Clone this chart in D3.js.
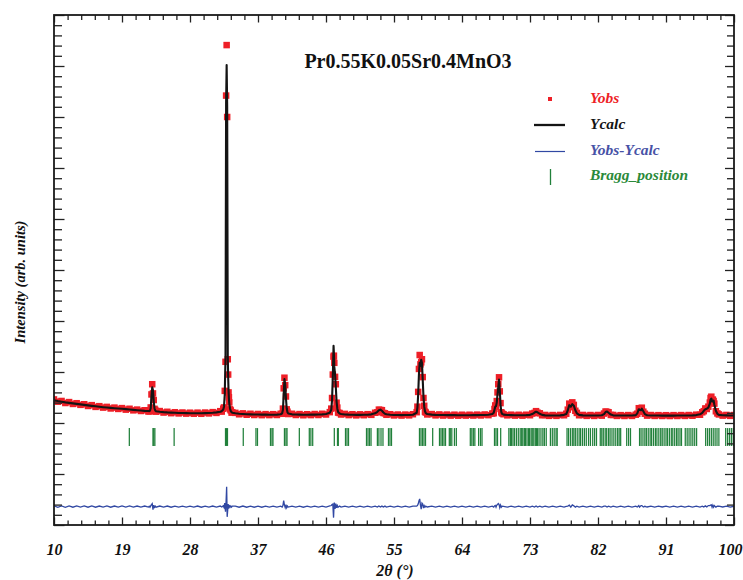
<!DOCTYPE html>
<html>
<head>
<meta charset="utf-8">
<script src="https://cdn.jsdelivr.net/npm/d3@7"></script>
<style>
  body { margin: 0; background: #fff; }
  svg { display: block; }
  text { font-family: "Liberation Serif", "Times New Roman", serif; }
</style>
</head>
<body>
<svg id="chart" width="743" height="580"></svg>
<script>
// ---- Powder pattern: 2θ grid, observed and calculated intensities (arb. units) ----
const twoTheta = [
  10, 10.5, 11, 11.5, 12, 12.5, 13, 13.5, 14, 14.5, 15, 15.5, 16, 16.5, 17, 17.5, 18, 18.5, 19, 19.5, 20, 20.5, 21, 21.5, 22, 22.5,
  22.6, 22.7, 22.8, 22.9, 23, 23.1, 23.2, 23.3, 23.4, 23.5,
  24, 24.5, 25, 25.5, 26, 26.5, 27, 27.5, 28, 28.5, 29, 29.5, 30, 30.5, 31, 31.5, 32,
  32.2, 32.4, 32.5, 32.6, 32.7, 32.78, 32.85, 32.92, 33, 33.05, 33.1, 33.15, 33.2, 33.3, 33.4, 33.5, 33.6,
  34, 34.5, 35, 35.5, 36, 36.5, 37, 37.5, 38, 38.5, 39, 39.5, 40,
  40.2, 40.3, 40.4, 40.5, 40.6, 40.7, 40.8, 40.9, 41,
  41.5, 42, 42.5, 43, 43.5, 44, 44.5, 45, 45.5, 46, 46.5,
  46.7, 46.8, 46.9, 47, 47.05, 47.1, 47.2, 47.3, 47.4, 47.5, 47.6, 47.8,
  48, 48.5, 49, 49.5, 50, 50.5, 51, 51.5, 52, 52.5,
  52.8, 53, 53.2, 53.4, 53.6, 53.8, 54,
  54.5, 55, 55.5, 56, 56.5, 57, 57.5,
  58, 58.1, 58.2, 58.3, 58.4, 58.5, 58.6, 58.7, 58.8, 58.9, 59, 59.1, 59.2, 59.4,
  60, 60.5, 61, 61.5, 62, 62.5, 63, 63.5, 64, 64.5, 65, 65.5, 66, 66.5, 67, 67.5, 68,
  68.2, 68.3, 68.4, 68.5, 68.6, 68.7, 68.8, 68.9, 69, 69.1, 69.2, 69.3,
  69.5, 70, 70.5, 71, 71.5, 72, 72.5, 73,
  73.3, 73.6, 73.8, 74, 74.3, 74.6,
  75, 75.5, 76, 76.5, 77, 77.5,
  77.8, 78, 78.2, 78.4, 78.6, 78.8, 79, 79.2, 79.5,
  80, 80.5, 81, 81.5, 82, 82.5,
  82.8, 83, 83.2, 83.4, 83.7,
  84, 84.5, 85, 85.5, 86, 86.5, 87,
  87.2, 87.4, 87.5, 87.7, 87.8, 88, 88.2, 88.5,
  89, 89.5, 90, 90.5, 91, 91.5, 92, 92.5, 93, 93.5, 94, 94.5, 95, 95.5,
  95.8, 96, 96.2, 96.4, 96.6, 96.8, 96.9, 97, 97.1, 97.2, 97.3, 97.4, 97.6, 97.8,
  98, 98.5, 99, 99.5, 100
];

const yObs = [
  462, 418, 432, 392, 410, 374, 388, 356, 368, 334, 350, 316, 330, 302, 316, 285, 302, 276, 292, 262, 279, 248, 263, 236, 250, 225,
  240, 228, 305, 560, 760, 580, 450, 278, 256, 222,
  234, 205, 220, 193, 211, 188, 206, 184, 202, 182, 203, 181, 205, 188, 213, 198, 232,
  224, 280, 305, 630, 1200, 6420, 7410, 6000, 1250, 950, 600, 505, 402, 268, 246, 204, 211,
  199, 171, 189, 162, 181, 157, 177, 154, 174, 155, 173, 157, 181,
  181, 282, 680, 888, 742, 520, 268, 221, 176,
  181, 157, 175, 152, 172, 155, 176, 157, 181, 167, 213,
  282, 490, 950, 1300, 1320, 1180, 905, 760, 398, 302, 204, 196,
  167, 179, 155, 172, 150, 170, 153, 173, 160, 201,
  211, 262, 255, 251, 197, 190, 161,
  172, 149, 166, 146, 165, 150, 172,
  212, 320, 610, 1060, 1333, 1150, 1190, 1250, 900, 490, 338, 222, 205, 168,
  175, 150, 168, 146, 165, 145, 163, 144, 162, 145, 162, 146, 164, 148, 167, 154, 185,
  192, 275, 345, 320, 430, 600, 760, 896, 620, 390, 210, 188,
  172, 150, 163, 145, 161, 144, 162, 152,
  185, 198, 232, 202, 190, 152,
  158, 140, 156, 140, 158, 152,
  182, 262, 380, 310, 405, 355, 240, 198, 152,
  158, 140, 156, 139, 157, 144,
  185, 225, 218, 210, 158,
  158, 139, 154, 138, 155, 139, 163,
  182, 290, 250, 270, 300, 222, 182, 145,
  156, 139, 154, 138, 153, 137, 154, 138, 155, 139, 156, 142, 163, 162,
  210, 232, 285, 275, 320, 400, 490, 516, 410, 460, 430, 380, 230, 188,
  168, 145, 158, 140, 156
];

const yCalc = [
  445, 430, 418, 405, 395, 385, 375, 365, 355, 345, 336, 327, 318, 310, 303, 296, 290, 284, 278, 272, 265, 258, 251, 244, 238, 234,
  232, 240, 290, 520, 700, 640, 420, 290, 245, 232,
  222, 214, 208, 204, 200, 197, 195, 193, 192, 191, 191, 192, 194, 197, 201, 208, 220,
  232, 265, 320, 560, 1300, 6300, 7020, 6200, 1300, 900, 640, 480, 380, 280, 232, 212, 200,
  190, 182, 177, 173, 170, 168, 166, 165, 164, 163, 163, 165, 172,
  190, 260, 560, 860, 760, 480, 290, 210, 185,
  170, 166, 164, 163, 163, 164, 165, 167, 170, 176, 200,
  260, 450, 900, 1516, 1350, 1100, 950, 700, 420, 280, 215, 185,
  175, 168, 164, 162, 160, 160, 161, 163, 170, 190,
  220, 250, 262, 240, 205, 180, 170,
  162, 158, 156, 155, 156, 158, 163,
  200, 300, 560, 950, 1180, 1120, 1240, 1180, 850, 520, 320, 230, 195, 175,
  165, 160, 158, 156, 155, 154, 154, 153, 153, 153, 153, 154, 155, 156, 158, 162, 175,
  200, 260, 320, 330, 400, 560, 700, 850, 640, 360, 220, 180,
  165, 158, 155, 153, 152, 152, 154, 160,
  175, 205, 220, 210, 180, 160,
  150, 148, 147, 148, 150, 160,
  175, 250, 350, 320, 370, 340, 250, 190, 160,
  150, 148, 147, 147, 148, 152,
  175, 215, 225, 200, 165,
  150, 147, 146, 146, 146, 147, 155,
  190, 270, 260, 250, 280, 230, 175, 152,
  148, 147, 146, 145, 145, 145, 145, 146, 146, 147, 148, 150, 155, 170,
  200, 240, 270, 280, 300, 380, 460, 480, 420, 430, 440, 360, 240, 180,
  160, 152, 150, 148, 148
];

// Reflection positions (2θ) of the refined phase
const braggPositions = [
  19.97, 23.1, 23.2, 23.35, 25.9,
  32.7, 32.83, 32.96, 35.05, 36.73, 36.93, 38.65, 38.85, 38.98, 40.5, 40.7, 40.84,
  42.47, 43.79, 44.0, 44.24, 47.1, 47.52, 47.63, 48.58, 48.78, 48.98,
  51.36, 51.56, 51.76, 51.96, 52.8, 53.0, 53.28, 53.54, 54.27, 54.47, 54.67,
  58.37, 58.57, 58.77, 58.97, 59.17, 60.12, 61.02, 61.22, 61.42, 61.62, 61.82, 62.32,
  62.45, 62.65, 63.0, 63.25, 65.1, 65.3, 65.5, 65.7, 66.2, 66.45, 66.65,
  68.3, 68.5, 68.7, 69.12, 70.2, 70.4, 70.55, 70.75, 70.95, 71.2, 71.45, 71.7, 71.9,
  72.05, 72.25, 72.4, 72.6, 72.8, 72.95, 73.15, 73.3, 73.5, 73.7, 73.85,
  74.0, 74.2, 74.45, 74.7, 74.9, 75.15, 75.7, 75.95, 76.2, 76.45, 76.6,
  77.9, 78.1, 78.35, 78.6, 78.8, 79.0, 79.25, 79.5, 79.7, 79.95, 80.2, 80.45,
  80.75, 81.0, 81.3, 81.55, 81.8,
  82.3, 82.5, 82.7, 82.95, 83.15, 83.4, 83.6, 83.85, 84.1, 84.35, 84.6, 84.8, 85.0,
  85.8, 86.05, 86.3,
  87.5, 87.7, 87.95, 88.2, 88.4, 88.65, 88.9, 89.1, 89.35, 89.6, 89.8, 90.05, 90.3, 90.5,
  90.75, 91.0, 91.2, 91.45, 91.7, 91.9, 92.15, 92.4, 92.6, 92.85, 93.05,
  93.55, 93.8, 94.05, 94.3, 94.55, 94.8, 95.05,
  96.25, 96.5, 96.75, 97.0, 97.25, 97.5, 97.75, 98.0,
  98.9, 99.15, 99.4, 99.65, 99.9
];

const xTickValues = [10, 19, 28, 37, 46, 55, 64, 73, 82, 91, 100];
const legendLabels = ["Yobs", "Ycalc", "Yobs-Ycalc", "Bragg_position"];
const titleText = "Pr0.55K0.05Sr0.4MnO3";

// vertical placement (intensity units) of the difference curve and Bragg markers
const diffOffset = -1640;
const braggTop = -100;
const braggBottom = -450;

// ---- layout ----
const plot = { left: 54, right: 734, top: 15, bottom: 525 };
const x = d3.scaleLinear().domain([10, 100]).range([plot.left, plot.right]);
const y = d3.scaleLinear().domain([-2000, 8000]).range([plot.bottom, plot.top]);

const colors = {
  obs: "#ee1f27",
  calc: "#141414",
  diff: "#3148a3",
  bragg: "#21803b",
  diffText: "#4752a6",
  braggText: "#2b8a3a"
};

const svg = d3.select("#chart");

svg.append("defs").append("clipPath").attr("id", "plotClip")
  .append("rect")
  .attr("x", plot.left).attr("y", plot.top)
  .attr("width", plot.right - plot.left).attr("height", plot.bottom - plot.top);

const body = svg.append("g").attr("clip-path", "url(#plotClip)");

// Bragg reflection markers
body.append("g").selectAll("line")
  .data(braggPositions)
  .join("line")
  .attr("x1", d => x(d)).attr("x2", d => x(d))
  .attr("y1", y(braggTop)).attr("y2", y(braggBottom))
  .attr("stroke", colors.bragg)
  .attr("stroke-width", 1.25);

// difference curve
const idx = d3.range(twoTheta.length);
body.append("path")
  .datum(idx)
  .attr("fill", "none")
  .attr("stroke", colors.diff)
  .attr("stroke-width", 1.3)
  .attr("d", d3.line()
    .x(i => x(twoTheta[i]))
    .y(i => y(yObs[i] - yCalc[i] + diffOffset)));

// observed points
const sq = 6.5;
body.append("g").selectAll("rect")
  .data(idx)
  .join("rect")
  .attr("x", i => x(twoTheta[i]) - sq / 2)
  .attr("y", i => y(yObs[i]) - sq / 2)
  .attr("width", sq).attr("height", sq)
  .attr("fill", colors.obs);

// calculated profile
body.append("path")
  .datum(idx)
  .attr("fill", "none")
  .attr("stroke", colors.calc)
  .attr("stroke-width", 2.1)
  .attr("stroke-linejoin", "round")
  .attr("d", d3.line()
    .x(i => x(twoTheta[i]))
    .y(i => y(yCalc[i])));

// ---- axes (ticks point inward on all four sides) ----
const xMinor = d3.range(0, 51).map(k => 10 + 1.8 * k).filter(v => !xTickValues.some(t => Math.abs(t - v) < 1e-6));
const yMajor = d3.range(-2000, 8001, 1000);
const yMinor = d3.range(-2000, 8001, 200).filter(v => v % 1000 !== 0);

function styleAxis(sel) {
  sel.select(".domain").remove();
  sel.selectAll(".tick line").attr("stroke", "#222").attr("stroke-width", 1.3);
}

svg.append("g").attr("transform", `translate(0,${plot.bottom})`)
  .call(d3.axisBottom(x).tickValues(xMinor).tickSize(-4.5).tickFormat(""))
  .call(styleAxis);
const xAxisG = svg.append("g").attr("transform", `translate(0,${plot.bottom})`)
  .call(d3.axisBottom(x).tickValues(xTickValues).tickSize(-7.5).tickPadding(18.5).tickFormat(d3.format("d")))
  .call(styleAxis);
xAxisG.selectAll(".tick text")
  .attr("font-family", "Liberation Serif, serif")
  .attr("font-size", 16).attr("font-weight", "bold").attr("font-style", "italic")
  .attr("fill", "#111");
// keep the last label inside the canvas
xAxisG.selectAll(".tick text").filter(d => d === 100)
  .attr("text-anchor", "end").attr("x", 8);

svg.append("g").attr("transform", `translate(0,${plot.top})`)
  .call(d3.axisTop(x).tickValues(xMinor).tickSize(-5).tickFormat(""))
  .call(styleAxis);
svg.append("g").attr("transform", `translate(0,${plot.top})`)
  .call(d3.axisTop(x).tickValues(xTickValues).tickSize(-7.5).tickFormat(""))
  .call(styleAxis);

svg.append("g").attr("transform", `translate(${plot.left},0)`)
  .call(d3.axisLeft(y).tickValues(yMinor).tickSize(-8).tickFormat(""))
  .call(styleAxis);
svg.append("g").attr("transform", `translate(${plot.left},0)`)
  .call(d3.axisLeft(y).tickValues(yMajor).tickSize(-10.5).tickFormat(""))
  .call(styleAxis);

svg.append("g").attr("transform", `translate(${plot.right},0)`)
  .call(d3.axisRight(y).tickValues(yMinor).tickSize(-7).tickFormat(""))
  .call(styleAxis);
svg.append("g").attr("transform", `translate(${plot.right},0)`)
  .call(d3.axisRight(y).tickValues(yMajor).tickSize(-9).tickFormat(""))
  .call(styleAxis);

// frame
svg.append("rect")
  .attr("x", plot.left).attr("y", plot.top)
  .attr("width", plot.right - plot.left).attr("height", plot.bottom - plot.top)
  .attr("fill", "none").attr("stroke", "#1a1a1a").attr("stroke-width", 1.8);

// ---- titles ----
svg.append("text")
  .attr("x", 408).attr("y", 68)
  .attr("text-anchor", "middle")
  .attr("font-size", 20).attr("font-weight", "bold")
  .attr("fill", "#111")
  .text(titleText);

svg.append("text")
  .attr("x", (plot.left + plot.right) / 2 + 1).attr("y", 576)
  .attr("text-anchor", "middle")
  .attr("font-size", 16).attr("font-weight", "bold").attr("font-style", "italic")
  .attr("fill", "#111")
  .text("2θ (°)");

svg.append("text")
  .attr("transform", "translate(25,282) rotate(-90)")
  .attr("text-anchor", "middle")
  .attr("font-size", 14.5).attr("font-weight", "bold").attr("font-style", "italic")
  .attr("fill", "#111")
  .text("Intensity (arb. units)");

// ---- legend ----
const legend = svg.append("g");
const legendX = 590;
const rowY = [103, 129, 155, 180];
const legendColors = [colors.obs, colors.calc, colors.diffText, colors.braggText];

legend.append("rect").attr("x", 548).attr("y", 97).attr("width", 4).attr("height", 4).attr("fill", colors.obs);
legend.append("line").attr("x1", 534).attr("x2", 565).attr("y1", 125).attr("y2", 125)
  .attr("stroke", colors.calc).attr("stroke-width", 2.3);
legend.append("line").attr("x1", 535).attr("x2", 565).attr("y1", 151.5).attr("y2", 151.5)
  .attr("stroke", colors.diff).attr("stroke-width", 1.2);
legend.append("line").attr("x1", 550.5).attr("x2", 550.5).attr("y1", 169).attr("y2", 185)
  .attr("stroke", colors.bragg).attr("stroke-width", 1.3);

legend.selectAll("text.lbl")
  .data(legendLabels)
  .join("text")
  .attr("class", "lbl")
  .attr("x", legendX)
  .attr("y", (d, i) => rowY[i])
  .attr("font-size", 15.5).attr("font-weight", "bold").attr("font-style", "italic")
  .attr("fill", (d, i) => legendColors[i])
  .text(d => d);
</script>
</body>
</html>
